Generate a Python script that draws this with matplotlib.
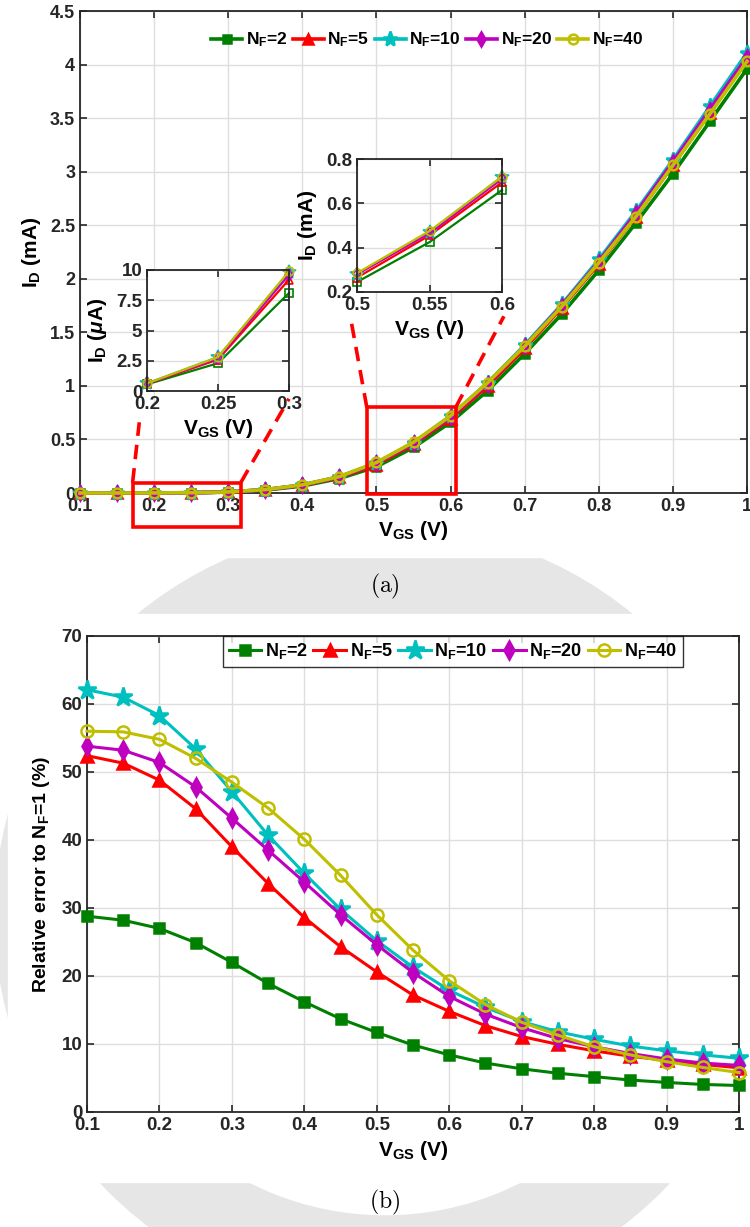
import numpy as np
import matplotlib.pyplot as plt
from matplotlib.patches import Rectangle, Wedge
from matplotlib.ticker import FuncFormatter

plt.rcParams['font.family'] = ['Liberation Sans', 'DejaVu Sans']
plt.rcParams['font.weight'] = 'bold'
plt.rcParams['mathtext.fontset'] = 'custom'
plt.rcParams['mathtext.rm'] = 'Liberation Sans:bold'
plt.rcParams['mathtext.bf'] = 'Liberation Sans:bold'
plt.rcParams['mathtext.it'] = 'Liberation Sans:italic:bold'

# gate voltage sweep (V)
vgs = [0.1, 0.15, 0.2, 0.25, 0.3, 0.35, 0.4, 0.45, 0.5, 0.55,
       0.6, 0.65, 0.7, 0.75, 0.8, 0.85, 0.9, 0.95, 1.0]
labels = ['N$_\\mathbf{F}$=2', 'N$_\\mathbf{F}$=5', 'N$_\\mathbf{F}$=10',
          'N$_\\mathbf{F}$=20', 'N$_\\mathbf{F}$=40']

# drain current (mA) for each number of fingers
id_nf2 = [0.00003, 0.00013, 0.00055, 0.0023, 0.0081, 0.027, 0.065, 0.135, 0.245, 0.425,
          0.66, 0.955, 1.30, 1.67, 2.08, 2.52, 2.98, 3.47, 3.96]
id_nf5 = [0.00004, 0.00016, 0.0006, 0.0026, 0.0092, 0.030, 0.071, 0.145, 0.265, 0.455,
          0.695, 1.00, 1.35, 1.73, 2.14, 2.58, 3.06, 3.55, 4.04]
id_nf10 = [0.00004, 0.00017, 0.00062, 0.0028, 0.0098, 0.032, 0.075, 0.152, 0.28, 0.47,
           0.72, 1.03, 1.38, 1.76, 2.18, 2.63, 3.11, 3.61, 4.11]
id_nf20 = [0.00004, 0.00017, 0.00062, 0.0027, 0.0096, 0.031, 0.074, 0.150, 0.28, 0.465,
           0.71, 1.02, 1.37, 1.75, 2.16, 2.61, 3.09, 3.58, 4.07]
id_nf40 = [0.00004, 0.00017, 0.00063, 0.0028, 0.0099, 0.032, 0.076, 0.153, 0.285, 0.475,
           0.72, 1.03, 1.37, 1.74, 2.15, 2.58, 3.06, 3.54, 4.03]

# relative error to NF=1 (%)
err_nf2 = [28.8, 28.2, 27.0, 24.9, 22.0, 18.9, 16.2, 13.7, 11.7, 9.85,
           8.4, 7.2, 6.35, 5.7, 5.2, 4.7, 4.35, 4.05, 3.9]
err_nf5 = [52.4, 51.3, 48.8, 44.6, 39.0, 33.6, 28.6, 24.3, 20.6, 17.2,
           14.8, 12.7, 11.1, 9.95, 9.0, 8.2, 7.6, 7.0, 6.5]
err_nf10 = [62.1, 61.0, 58.3, 53.4, 47.1, 40.7, 35.1, 29.8, 25.2, 21.3,
            17.9, 15.4, 13.3, 11.8, 10.7, 9.7, 9.0, 8.4, 7.9]
err_nf20 = [53.8, 53.2, 51.4, 47.8, 43.2, 38.5, 33.8, 29.0, 24.6, 20.5,
            17.0, 14.4, 12.4, 10.8, 9.6, 8.6, 7.8, 7.2, 6.85]
err_nf40 = [56.0, 55.9, 54.8, 52.0, 48.5, 44.7, 40.1, 34.8, 29.0, 23.8,
            19.3, 15.8, 13.2, 11.3, 9.6, 8.4, 7.4, 6.55, 5.8]

id_all = [id_nf2, id_nf5, id_nf10, id_nf20, id_nf40]
err_all = [err_nf2, err_nf5, err_nf10, err_nf20, err_nf40]

colors = ['#008000', '#ff0000', '#00bfbf', '#bf00bf', '#bfbf00']
markers = ['s', '^', '*', 'd', 'o']
msizes = [6, 7, 11, 7, 7]
axcol = '#262626'

W, H = 750, 1227
fig = plt.figure(figsize=(W / 100, H / 100), dpi=100)


def box(x0, y0, x1, y1):
    # pixel box (top-left origin) -> figure fraction rect
    return [x0 / W, 1 - y1 / H, (x1 - x0) / W, (y1 - y0) / H]


# faint seal in the page background
seal = Wedge((385 / 100, (H - 916) / 100), 3.9, 0, 360, width=0.9,
             transform=fig.dpi_scale_trans, color='#e6e6e6', zorder=-3)
fig.add_artist(seal)
for x0, y0, x1, y1 in [(0, 0, 750, 557), (8, 614, 750, 1182)]:
    fig.add_artist(Rectangle((x0 / W, 1 - y1 / H), (x1 - x0) / W, (y1 - y0) / H,
                             transform=fig.transFigure, color='white', zorder=-2))


def style(ax, fs):
    ax.grid(True, color='#dedede', lw=1)
    ax.set_axisbelow(True)
    ax.tick_params(direction='in', top=True, right=True, length=5, width=1.2,
                   colors=axcol, labelsize=fs)
    for s in ax.spines.values():
        s.set_color(axcol)
        s.set_linewidth(1.3)
    for t in ax.get_xticklabels() + ax.get_yticklabels():
        t.set_fontweight('bold')


gfmt = FuncFormatter(lambda v, p: '%g' % round(v, 4))

# ---- (a) drain current ----
ax1 = fig.add_axes(box(80, 11, 747, 493))
for y, c, m, ms, lab in zip(id_all, colors, markers, msizes, labels):
    mfc = 'none' if m == 'o' else c
    ax1.plot(vgs, y, color=c, lw=2.6, marker=m, ms=ms, mfc=mfc, mew=1.8,
             label=lab, clip_on=False, zorder=3)
ax1.set_xlim(0.1, 1)
ax1.set_ylim(0, 4.5)
ax1.set_xticks(np.arange(0.1, 1.01, 0.1))
ax1.set_yticks(np.arange(0, 4.51, 0.5))
ax1.xaxis.set_major_formatter(gfmt)
ax1.yaxis.set_major_formatter(gfmt)
style(ax1, 13)
ax1.set_xlabel('V$_\\mathbf{GS}$ (V)', fontsize=15, fontweight='bold', labelpad=3)
ax1.set_ylabel('I$_\\mathbf{D}$ (mA)', fontsize=15, fontweight='bold', labelpad=5)
ax1.legend(loc='center', bbox_to_anchor=(427 / W, 1 - 40 / H), bbox_transform=fig.transFigure,
           ncol=5, frameon=False, handlelength=1.8, handletextpad=0.2,
           columnspacing=0.3, prop={'weight': 'bold', 'size': 12.5})

# zoom windows and connectors
for (x0, y0, w, h) in [(0.171, -0.32, 0.146, 0.418), (0.487, -0.01, 0.12, 0.81)]:
    ax1.add_patch(Rectangle((x0, y0), w, h, fill=False, ec='red', lw=2.6,
                            clip_on=False, zorder=5))
for (xa, xb, ya, yb) in [(0.171, 0.180, 0.098, 0.66), (0.317, 0.382, 0.098, 0.88),
                         (0.487, 0.466, 0.80, 1.60), (0.607, 0.672, 0.80, 1.65)]:
    ax1.plot([xa, xb], [ya, yb], color='red', lw=2.6, ls=(0, (4, 2.5)),
             clip_on=False, zorder=5)

# inset: subthreshold region (uA), points 0.2-0.3 V
ins1 = fig.add_axes(box(147, 270, 289, 391))
for y, c, m, ms in zip(id_all, colors, markers, msizes):
    ins1.plot(vgs[2:5], np.array(y[2:5]) * 1000, color=c, lw=1.6, marker=m,
              ms=ms * 0.9, mfc='none', mew=1.2, clip_on=False)
ins1.set_xlim(0.2, 0.3)
ins1.set_ylim(0, 10)
ins1.set_xticks([0.2, 0.25, 0.3])
ins1.set_yticks([0, 2.5, 5, 7.5, 10])
ins1.xaxis.set_major_formatter(gfmt)
ins1.yaxis.set_major_formatter(gfmt)
style(ins1, 13.5)
ins1.set_xlabel('V$_\\mathbf{GS}$ (V)', fontsize=15, fontweight='bold', labelpad=3)
ins1.set_ylabel('I$_\\mathbf{D}$ ($\\mu$A)', fontsize=15, fontweight='bold', labelpad=5)

# inset: moderate inversion (mA), points 0.5-0.6 V
ins2 = fig.add_axes(box(357, 159, 502, 292))
for y, c, m, ms in zip(id_all, colors, markers, msizes):
    ins2.plot(vgs[8:11], y[8:11], color=c, lw=1.6, marker=m, ms=ms * 0.9,
              mfc='none', mew=1.2, clip_on=False)
ins2.set_xlim(0.5, 0.6)
ins2.set_ylim(0.2, 0.8)
ins2.set_xticks([0.5, 0.55, 0.6])
ins2.set_yticks([0.2, 0.4, 0.6, 0.8])
ins2.xaxis.set_major_formatter(gfmt)
ins2.yaxis.set_major_formatter(gfmt)
style(ins2, 13.5)
ins2.set_xlabel('V$_\\mathbf{GS}$ (V)', fontsize=15, fontweight='bold', labelpad=3)
ins2.set_ylabel('I$_\\mathbf{D}$ (mA)', fontsize=15, fontweight='bold', labelpad=5)

# ---- (b) relative error ----
ax2 = fig.add_axes(box(87, 636, 739, 1112))
for y, c, m, ms, lab in zip(err_all, colors, markers, msizes, labels):
    mfc = 'none' if m == 'o' else c
    ax2.plot(vgs, y, color=c, lw=2.2, marker=m, ms=ms * 1.25, mfc=mfc, mew=1.8,
             label=lab, clip_on=False, zorder=3)
ax2.set_xlim(0.1, 1)
ax2.set_ylim(0, 70)
ax2.set_xticks(np.arange(0.1, 1.01, 0.1))
ax2.set_yticks(np.arange(0, 71, 10))
ax2.xaxis.set_major_formatter(gfmt)
style(ax2, 13.5)
ax2.set_xlabel('V$_\\mathbf{GS}$ (V)', fontsize=15, fontweight='bold', labelpad=4)
ax2.set_ylabel('Relative error to N$_\\mathbf{F}$=1 (%)', fontsize=14,
               fontweight='bold', labelpad=7)
leg = ax2.legend(loc='upper center', bbox_to_anchor=(453 / W, 1 - 636 / H),
                 bbox_transform=fig.transFigure, ncol=5, fancybox=False,
                 borderaxespad=0, handlelength=1.8, handletextpad=0.2,
                 columnspacing=0.3, borderpad=0.3, prop={'weight': 'bold', 'size': 13})
leg.get_frame().set_edgecolor('black')
leg.get_frame().set_linewidth(1.0)

# captions
fig.text(385 / W, 1 - 586 / H, r'$\mathrm{(a)}$', ha='center', va='center',
         fontsize=17, math_fontfamily='cm')
fig.text(385 / W, 1 - 1202 / H, r'$\mathrm{(b)}$', ha='center', va='center',
         fontsize=17, math_fontfamily='cm')

fig.savefig('out.png', dpi=100)
